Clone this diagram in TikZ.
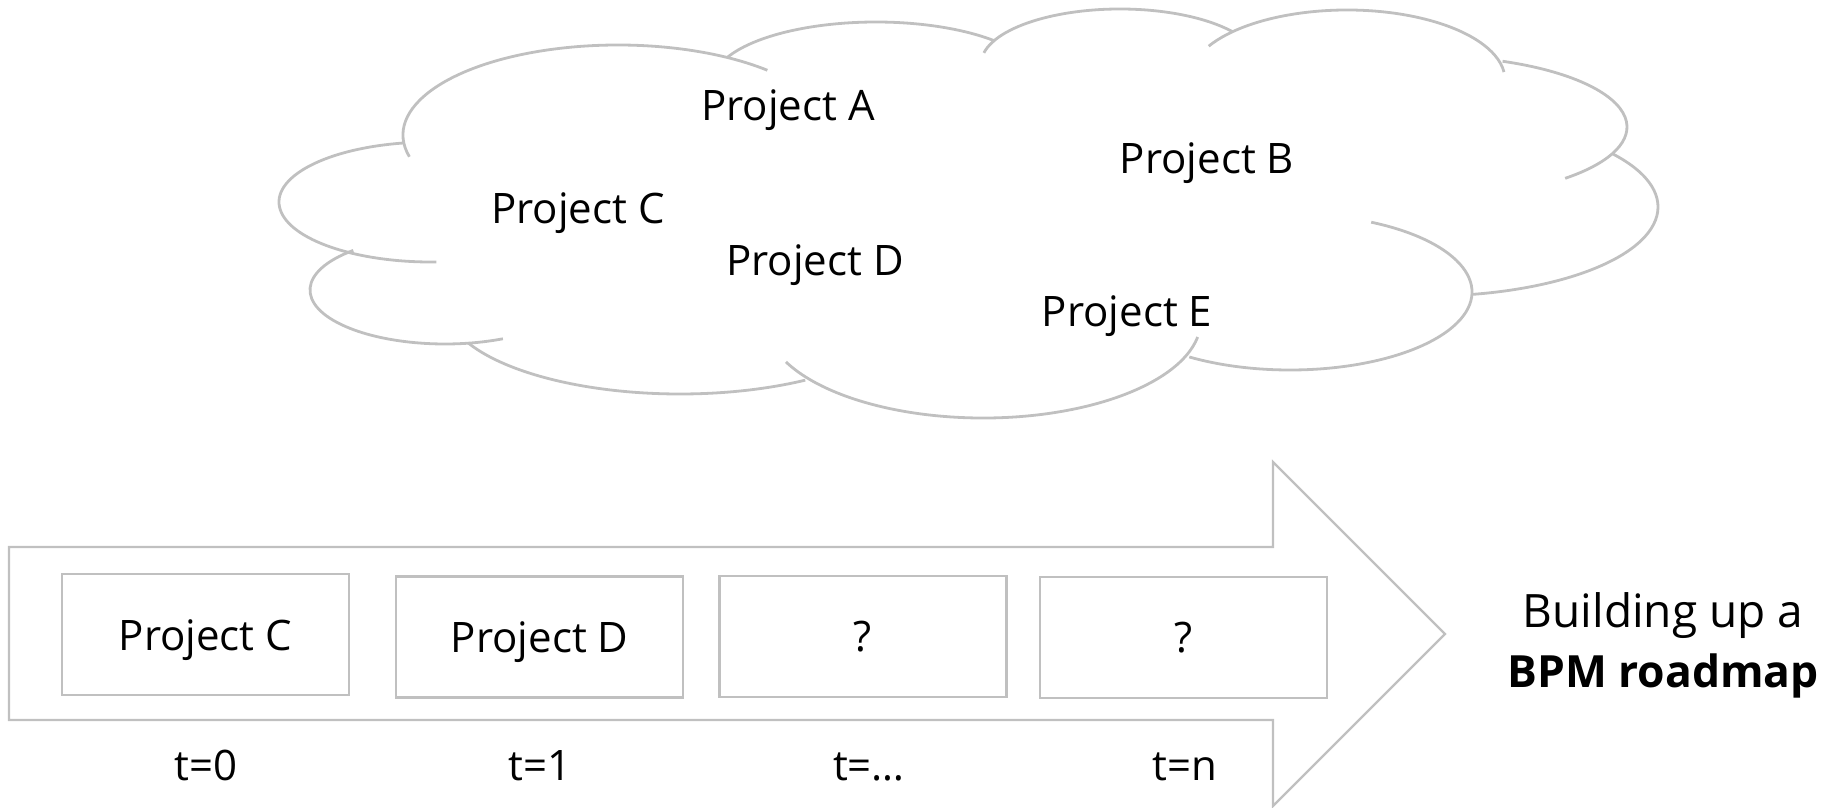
\documentclass[tikz,border=0pt]{standalone}
\usepackage{fontspec}
\setmainfont{Open Sans}
\definecolor{linegray}{RGB}{192,192,192}

% one bump of the cloud: centre, radii, start and end angle
\newcommand\cloudlobe[6]{%
  \draw[cloudline] (#1,#2) ++(#5:#3 and #4)
    arc[start angle=#5, end angle=#6, x radius=#3, y radius=#4];}

\begin{document}
\begin{tikzpicture}[x=0.5pt,y=-0.5pt,
  cloudline/.style={draw=linegray, line width=1.4pt},
  outline/.style={draw=linegray, line width=1.1pt},
  stepbox/.style={outline, fill=white, minimum width=143.5pt, minimum height=60.5pt,
    inner sep=0pt, text depth=0pt, font=\fontsize{21}{25}\selectfont},
  plaintext/.style={font=\fontsize{21}{25}\selectfont, anchor=base, inner sep=0pt},
  captiontext/.style={font=\fontsize{23}{27}\selectfont, anchor=base, inner sep=0pt}]
\useasboundingbox (0,0) rectangle (1826,808);

% cloud of candidate projects
\cloudlobe{618}{135}{215}{90}{166}{314}
\cloudlobe{876}{82}{163}{60}{204.7}{316.9}
\cloudlobe{1120}{64}{139}{55}{191.7}{324.2}
\cloudlobe{1347}{80}{158}{70}{208.9}{353.5}
\cloudlobe{1427}{127}{200}{71}{292.2}{406.3}
\cloudlobe{1429}{207}{229}{89}{323.4}{438.9}
\cloudlobe{1290}{292}{182}{78}{296.5}{483.6}
\cloudlobe{983}{320}{218}{98}{10}{154.7}
\cloudlobe{680}{304}{235}{90}{57.8}{154.4}
\cloudlobe{445}{290}{135}{54}{227.2}{64.6}
\cloudlobe{431}{202}{152}{60}{259.4}{88}

\node[plaintext] (pa) at (788,120) {Project A};
\node[plaintext] (pb) at (1207,173) {Project B};
\node[plaintext] (pc) at (578,223) {Project C};
\node[plaintext] (pd) at (815,275) {Project D};
\node[plaintext] (pe) at (1127,326) {Project E};

% roadmap arrow
\draw[outline] (9,547) -- (1273,547) -- (1273,462) -- (1445,634)
  -- (1273,806) -- (1273,720) -- (9,720) -- cycle;

\node[stepbox] (s0) at (205.5,634.6) {Project C};
\node[stepbox] (s1) at (539.7,637) {Project D};
\node[stepbox] (s2) at (862.9,636.4) {?};
\node[stepbox] (s3) at (1183.7,637.5) {?};

\node[plaintext] (t0) at (206,780) {t=0};
\node[plaintext] (t1) at (540,780) {t=1};
\node[plaintext] (t2) at (869,780) {t=…};
\node[plaintext] (t3) at (1185,780) {t=n};

\node[captiontext] (cap1) at (1663,627) {Building up a};
\node[captiontext, font=\fontsize{22.2}{27}\selectfont\bfseries] (cap2) at (1663,687) {BPM roadmap};
\end{tikzpicture}
\end{document}
